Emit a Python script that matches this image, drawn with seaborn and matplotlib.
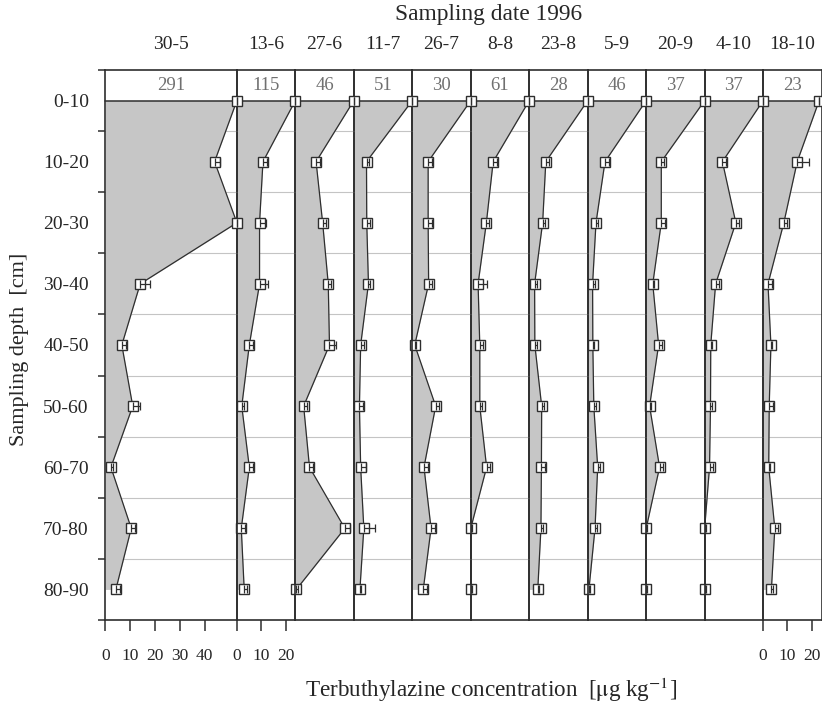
import numpy as np
import pandas as pd
import matplotlib
matplotlib.use("Agg")
import matplotlib.pyplot as plt
import seaborn as sns

# sampling dates (columns) and depth layers (rows)
dates = ["30-5", "13-6", "27-6", "11-7", "26-7", "8-8", "23-8", "5-9", "20-9", "4-10", "18-10"]
depths = ["0-10", "10-20", "20-30", "30-40", "40-50", "50-60", "60-70", "70-80", "80-90"]

# concentration in the 0-10 layer (off scale, written in the header)
surface = [291, 115, 46, 51, 30, 61, 28, 46, 37, 37, 23]

# concentrations below 10 cm (10-20 ... 80-90), ug/kg
c_305 = [44.0, 53.0, 14.0, 6.6, 11.0, 2.2, 10.4, 4.2]
c_136 = [10.7, 9.3, 9.3, 5.1, 2.0, 5.1, 1.8, 3.0]
c_276 = [8.5, 11.2, 13.5, 14.0, 3.4, 5.8, 20.3, 0.4]
c_117 = [5.2, 5.3, 6.0, 2.8, 2.3, 2.8, 4.1, 2.5]
c_267 = [6.5, 6.5, 6.7, 1.0, 9.6, 4.8, 7.7, 4.5]
c_88 = [9.2, 6.4, 3.0, 3.7, 3.7, 6.5, 0.0, 0.0]
c_238 = [6.8, 5.5, 2.2, 2.3, 5.1, 5.0, 4.8, 3.5]
c_59 = [7.1, 3.4, 2.0, 2.1, 2.5, 4.1, 3.0, 0.5]
c_209 = [6.2, 6.2, 2.7, 5.1, 1.4, 5.5, 0.0, 0.0]
c_410 = [7.3, 12.8, 4.5, 2.5, 2.4, 2.0, 0.0, 0.0]
c_1810 = [14.0, 8.5, 2.0, 3.2, 2.5, 2.3, 4.8, 3.4]

# one-sided error bars (same layers)
e_305 = [2.0, 0.0, 4.0, 1.5, 3.0, 1.0, 1.5, 1.5]
e_136 = [1.5, 2.5, 3.5, 1.5, 1.0, 1.5, 1.5, 1.0]
e_276 = [1.5, 1.5, 1.0, 2.5, 1.5, 1.5, 2.0, 0.5]
e_117 = [1.0, 1.5, 0.5, 1.5, 1.5, 2.0, 4.5, 0.5]
e_267 = [1.5, 1.5, 1.5, 0.5, 1.5, 1.5, 1.5, 1.5]
e_88 = [1.5, 1.0, 3.5, 1.5, 1.0, 1.5, 0.5, 0.5]
e_238 = [1.5, 1.0, 1.0, 1.0, 1.0, 1.5, 1.0, 0.5]
e_59 = [1.5, 1.0, 1.0, 0.5, 1.0, 1.0, 1.0, 0.5]
e_209 = [1.0, 1.5, 0.5, 1.5, 0.5, 1.5, 0.5, 0.5]
e_410 = [1.5, 1.5, 1.5, 0.5, 0.5, 1.5, 0.5, 0.5]
e_1810 = [5.0, 1.5, 1.5, 0.5, 1.5, 0.5, 1.5, 0.5]

conc = [c_305, c_136, c_276, c_117, c_267, c_88, c_238, c_59, c_209, c_410, c_1810]
errs = [e_305, e_136, e_276, e_117, e_267, e_88, e_238, e_59, e_209, e_410, e_1810]

xmax = [53] + [24] * 10
xticks = {0: [0, 10, 20, 30, 40], 1: [0, 10, 20], 10: [0, 10, 20]}

sns.set_theme(style="white")
plt.rcParams["font.family"] = ["Liberation Serif", "DejaVu Serif"]
plt.rcParams["mathtext.fontset"] = "stix"

dark = "#2e2e2e"
shade = "#c6c6c6"
gridc = "#c4c4c4"

fig = plt.figure(figsize=(8.22, 7.05), dpi=100)
gs = fig.add_gridspec(1, 11, width_ratios=[131.5] + [58.5] * 10,
                      left=0.1283, right=0.9995, top=0.9007, bottom=0.1206, wspace=0)

pos = np.arange(len(depths))

for i, d in enumerate(dates):
    ax = fig.add_subplot(gs[0, i])
    # earlier panels on top, so markers sitting on a border stay whole
    ax.set_zorder(20 - i)
    ax.set_facecolor("none")
    vals = np.array([surface[i]] + conc[i], dtype=float)
    xplot = np.minimum(vals, xmax[i])
    err = np.array([0.0] + errs[i])
    df = pd.DataFrame({"conc": xplot, "pos": pos})

    for g in np.arange(0.5, 8, 1):
        ax.axhline(g, color=gridc, lw=0.8, zorder=0)
    ax.axhline(0, color=dark, lw=1.1, zorder=2)

    ax.fill_betweenx(df["pos"], 0, df["conc"], color=shade, lw=0, zorder=1)
    sns.lineplot(data=df, x="conc", y="pos", orient="y", sort=False, estimator=None,
                 color=dark, lw=0.9, marker="s", ms=7.5, mfc="white", mec=dark, mew=1.0,
                 ax=ax, zorder=3)
    eb = ax.errorbar(df["conc"], df["pos"], xerr=[np.zeros_like(err), err], fmt="none",
                     ecolor=dark, elinewidth=0.9, capsize=3, capthick=0.9, zorder=4)
    for art in ax.lines:
        art.set_clip_on(False)
    for art in eb.lines[2]:
        art.set_clip_on(False)

    ax.text(xmax[i] / 2, -0.25, str(surface[i]), ha="center", va="center",
            fontsize=13.5, color="#707070")
    ax.text(0.5, 1.046, d, transform=ax.transAxes, ha="center", va="center", fontsize=14)

    ax.set_xlim(0, xmax[i])
    ax.set_ylim(8.5, -0.5)
    ax.set_xlabel("")
    ax.set_ylabel("")
    for s in ax.spines.values():
        s.set_color(dark)
        s.set_linewidth(1.2)

    ax.set_xticks(xticks.get(i, []))
    ax.tick_params(axis="x", direction="out", length=8, width=1.1, color=dark,
                   pad=12, labelsize=12.5, bottom=True)
    if i == 0:
        ax.set_yticks(pos, depths)
        ax.set_yticks(np.arange(-0.5, 9, 1), minor=True)
        ax.tick_params(axis="y", which="major", length=0, pad=12, labelsize=14)
        ax.tick_params(axis="y", which="minor", direction="out", length=5, width=1.1,
                       color=dark, left=True)
    else:
        ax.set_yticks([])

fig.text(0.594, 0.979, "Sampling date 1996", ha="center", va="center", fontsize=16.8)
fig.text(0.024, 0.505, "Sampling depth  [cm]", ha="center", va="center",
         rotation=90, fontsize=16)
fig.text(0.597, 0.021, r"Terbuthylazine concentration  [$\mathrm{\mu}$g kg$^{\mathrm{-1}}$]",
         ha="center", va="center", fontsize=16.7)

fig.savefig("out.png", dpi=100)
